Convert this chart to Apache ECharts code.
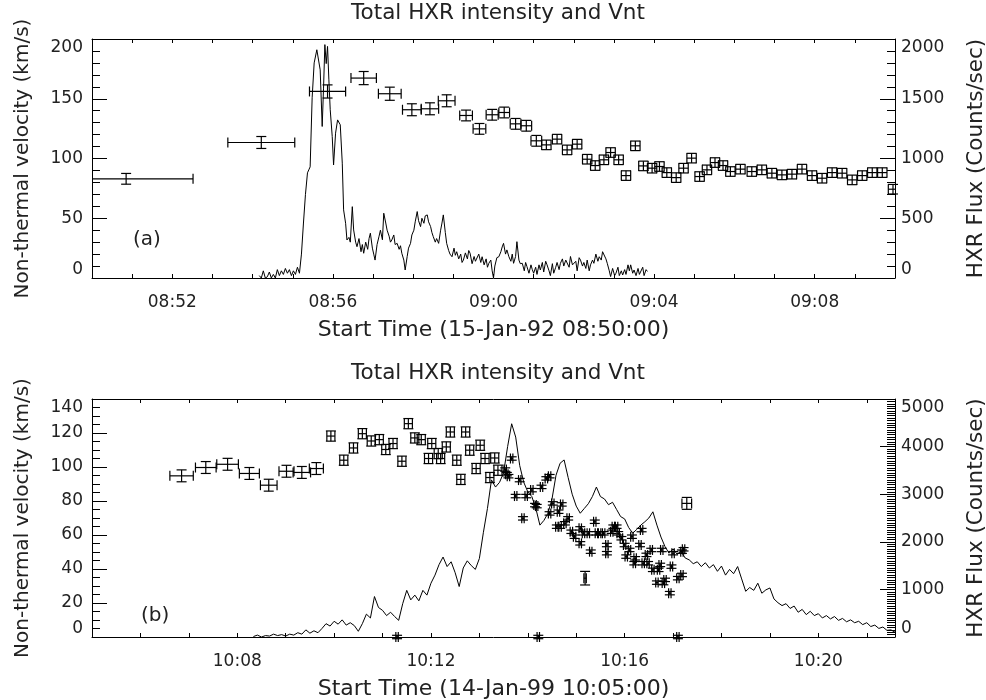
<!DOCTYPE html>
<html style="height: 100%">
<head>
<meta charset="utf-8">
</head>
<body style="height: 100%; margin: 0; background: #fff">
<div id="container" style="width: 986px; height: 700px"></div>
<script type="text/javascript" src="https://cdn.jsdelivr.net/npm/echarts@6/dist/echarts.min.js"></script>
<script type="text/javascript">

// ---- panel (a): 15-Jan-92, times in seconds after 08:50:00 ----
var startA = '08:50:00';
var labelSecA = [120, 360, 600, 840, 1080];
var labelTextA = ['08:52', '08:56', '09:00', '09:04', '09:08'];

// HXR light curve [sec, counts/sec]
var hxrA = [[250,20],[253,0],[256,60],[259,0],[262,10],[265,50],[268,0],[271,30],[274,0],[277,70],[280,20],[283,60],[286,30],[289,80],[292,40],[295,70],[298,20],[301,60],[304,30],[307,90],[310,40],[313,200],[316,460],[319,700],[322,880],[324,905],[326,930],[329,1508],[332,1800],[336,1910],[338,1924],[341,1742],[344,1268],[346,1589],[348,1953],[350,1794],[352,1938],[354,1658],[356,1408],[359,1184],[361,946],[364,1212],[367,1323],[371,1282],[374,961],[376,570],[379,458],[381,318],[384,340],[386,300],[389,597],[391,402],[394,300],[396,262],[399,330],[402,220],[404,280],[406,207],[409,300],[412,240],[414,330],[416,375],[419,250],[421,200],[423,150],[426,280],[429,350],[431,400],[434,320],[436,542],[439,460],[441,400],[444,350],[446,300],[448,318],[451,360],[453,280],[456,290],[459,240],[461,270],[463,207],[466,150],[468,67],[471,180],[473,250],[476,290],[478,360],[481,400],[483,470],[486,556],[488,480],[491,430],[493,500],[496,458],[498,520],[501,528],[503,470],[506,430],[508,380],[510,346],[513,300],[515,330],[518,290],[521,400],[523,460],[525,528],[528,380],[530,290],[533,230],[535,200],[538,178],[541,250],[543,190],[545,220],[548,160],[551,200],[553,130],[555,150],[558,210],[561,160],[563,230],[565,207],[568,120],[571,180],[573,140],[575,150],[578,200],[581,130],[583,178],[586,110],[589,160],[591,90],[593,123],[596,150],[598,60],[600,0],[602,100],[605,170],[608,178],[611,220],[613,260],[615,290],[618,200],[620,235],[623,178],[626,140],[628,200],[630,123],[633,180],[635,304],[638,150],[640,120],[643,123],[646,60],[648,130],[650,95],[653,40],[656,110],[658,70],[660,40],[663,90],[665,30],[668,110],[670,67],[673,130],[675,50],[678,140],[680,110],[683,60],[685,20],[688,120],[690,40],[693,90],[695,130],[698,70],[700,123],[703,160],[705,100],[708,150],[710,150],[713,90],[715,180],[718,110],[720,95],[723,140],[725,60],[728,170],[730,150],[733,100],[735,130],[738,80],[740,150],[743,60],[745,110],[748,150],[750,123],[753,200],[756,140],[758,178],[761,150],[763,220],[765,220],[768,160],[770,123],[773,60],[775,12],[778,80],[781,20],[783,40],[786,90],[788,20],[791,60],[793,25],[796,70],[798,30],[801,110],[803,60],[805,110],[808,40],[810,67],[813,20],[816,80],[818,30],[820,40],[823,90],[825,20],[828,70],[830,55]];

// non-thermal velocity [sec, km/s, time err (s), vel err (km/s)]
var velA = [[51,83.0,100,4.5],[253,113.4,50,5],[352,156.1,27,5.5],[406,167.3,19,5.5],[445,154.2,17,5.5],[478,140.8,14,5],[505,141.6,13,5],[530,148.3,12.5,5],[559,136.0,9.5,4.5],[579,124.8,9.5,4.5],[598,136.6,9,4.5],[616,138.5,8,4.5],[633,129.0,8,4.5],[649,127.4,8,4.5],[664,114.8,8,4.5],
[679,111.4,7,4],[695,116.2,7,4],[710,107.2,7,4],[725,112.0,7,4],[740,99.4,7,4],[752,94.1,7,4],[765,98.9,7,4],[775,105.0,7,4],[787,98.9,7,4],[798,85.7,7,4],[812,110.6,7,4],[824,93.8,7,4],[837,91.9,7,4],[848,93.3,7,4],[859,88.2,7,4],[873,84.0,7,4],[884,91.9,7,4],[896,100.3,7,4],[908,84.9,7,4],[919,90.5,7,4],[931,96.6,7,4],[943,94.1,7,4],[954,89.1,7,4],[969,91.1,7,4],[986,89.1,7,4],[1001,90.5,7,4],[1016,87.7,7,4],[1031,86.3,7,4],[1046,86.9,7,4],[1061,91.1,7,4],[1076,85.7,7,4],[1091,83.5,7,4],[1106,88.2,7,4],[1121,87.7,7,4],[1136,82.1,7,4],[1151,85.7,7,4],[1166,88.2,7,4],[1181,88.2,7,4],[1197,74.3,7,4]];

// ---- panel (b): 14-Jan-99, times in seconds after 10:05:00 ----
var startB = '10:05:00';
var labelSecB = [180, 420, 660, 900];
var labelTextB = ['10:08', '10:12', '10:16', '10:20'];

// HXR light curve sampled every 5 s from 200 s
var hxrBStart = 200, hxrBStep = 5;
var hxrB = [10,40,0,30,20,60,30,50,20,60,40,90,60,150,80,130,90,180,280,230,
330,270,360,250,300,240,120,280,480,400,850,620,560,450,520,430,350,700,980,780,
880,760,980,880,1130,1300,1520,1680,1480,1580,1350,1060,1450,1600,1500,1420,1650,2200,2700,3300,
3150,3250,3450,4000,4480,4200,3600,3250,3050,2950,2700,2350,2450,2600,2900,3400,3650,3720,3350,3000,
2750,2600,2700,2800,2950,3150,2950,2900,2780,2830,2680,2530,2480,2300,2180,2260,2350,2420,2500,2630,
2350,2100,1900,1760,1850,1740,1800,1660,1620,1540,1580,1480,1560,1450,1520,1380,1490,1300,1420,1330,
1480,1220,960,1040,980,1130,920,990,1030,800,720,660,700,600,650,520,580,470,540,450,
490,400,450,380,430,350,390,320,360,300,330,260,300,220,250,180,210,140,150,100];

var velB = [[111,94.8,14.5,3.5],[141,99.7,12.8,3.5],[168,101.6,13.4,3.5],[195,96.2,12.4,3.5],[219,89.3,10.3,3.5],[241,97.5,9.3,3.5],[260,96.8,10.8,3.5],[278,99.1,8.7,3.5],
[296,118.2,5,3],[312,104.0,5,3],[324,111.2,5,3],[335,119.6,5,3],[346,115.3,5,3],[356,116.1,5,3],[364,110.3,5,3],[373,113.8,5,3],[378,0,1.5,1],[384,103.4,5,3],[392,125.5,5,3],[400,117.1,5,3],[408,116.1,5,3],[417,105.0,5,3],[421,113.8,5,3],[429,107.9,5,3],[432,105.0,5,3],[439,111.8,5,3],[444,120.6,5,3],[452,104.0,5,3],[457,92.7,5,3],[463,120.6,5,3],[468,109.9,5,3],[476,99.1,5,3],[481,112.8,5,3],[487,105.0,5,3],[493,93.8,5,3],[499,105.3,5,3],[503,98.1,5,3],
[512,98.5,1.5,1],[514,95.8,1.5,1],[516,94.6,1.5,1],[520,105.0,1.5,1],[525,82.9,1.5,1],[530,92.3,1.5,1],[534,69.8,1.5,1],[538,82.9,1.5,1],[545,86.4,1.5,1],[549,77.6,1.5,1],[551,77.0,1.5,1],[553,0,1.5,1],[557,88.3,1.5,1],[563,93.3,1.5,1],[567,94.6,1.5,1],[567,72.7,1.5,1],[571,78.6,1.5,1],[576,64.9,1.5,1],[578,73.7,1.5,1],[580,64.9,1.5,1],[582,78.0,1.5,1],[586,66.9,1.5,1],[590,69.8,1.5,1],[594,61.9,1.5,1],[598,59.0,1.5,1],[605,63.9,1.5,1],[605,55.1,1.5,1],[609,61.0,1.5,1],[611,34.6,1.5,4],[615,61.0,1.5,1],[618,50.2,1.5,1],[623,67.8,1.5,1],[625,61.0,1.5,1],[629,61.0,1.5,1],[634,61.0,1.5,1],[638,54.1,1.5,1],[638,49.3,1.5,1],[644,61.9,1.5,1],[646,64.9,1.5,1],[650,64.9,1.5,1],[652,61.0,1.5,1],[656,58.1,1.5,1],[660,54.1,1.5,1],[662,47.3,1.5,1],[666,51.2,1.5,1],[669,59.0,1.5,1],[672,43.4,1.5,1],[673,46.3,1.5,1],[679,54.1,1.5,1],[681,62.9,1.5,1],[683,43.4,1.5,1],[687,48.3,1.5,1],[689,43.4,1.5,1],[693,51.2,1.5,1],[695,39.5,1.5,1],[700,32.0,1.5,1],[702,39.5,1.5,1],[704,42.4,1.5,1],[706,51.2,1.5,1],[708,31.7,1.5,1],[710,33.6,1.5,1],[716,25.8,1.5,1],[718,41.4,1.5,1],[720,49.3,1.5,1],[726,0,1.5,1],[726,34.6,1.5,1],[731,36.5,1.5,1],[731,50.2,1.5,1],[733,51.6,1.5,1],[737,78.6,6,3.5]];

var hxrBData = hxrB.map(function (c, i) { return [hxrBStart + i * hxrBStep, c]; });

var FONT = 'DejaVu Sans';
var INK = '#222';

function errorBars(params, api) {
    var t = api.value(0), v = api.value(1), dt = api.value(2), dv = api.value(3);
    var cs = params.coordSys;
    var c = api.coord([t, v]);
    var xl = api.coord([t - dt, v])[0], xr = api.coord([t + dt, v])[0];
    var yt = api.coord([t, v + dv])[1], yb = api.coord([t, v - dv])[1];
    var cap = 5;
    var clipL = xl < cs.x, clipR = xr > cs.x + cs.width;
    xl = Math.max(xl, cs.x);
    xr = Math.min(xr, cs.x + cs.width);
    var st = { stroke: '#000', lineWidth: 1.2 };
    function seg(x1, y1, x2, y2) {
        return { type: 'line', shape: { x1: x1, y1: y1, x2: x2, y2: y2 }, style: st };
    }
    var kids = [
        seg(xl, c[1], xr, c[1]),
        seg(c[0], yt, c[0], yb),
        seg(c[0] - cap, yt, c[0] + cap, yt),
        seg(c[0] - cap, yb, c[0] + cap, yb)
    ];
    if (!clipL) kids.push(seg(xl, c[1] - cap, xl, c[1] + cap));
    if (!clipR) kids.push(seg(xr, c[1] - cap, xr, c[1] + cap));
    return { type: 'group', children: kids };
}

function timeAxis(grid, pos, max, secs, texts, name) {
    return {
        type: 'value', gridIndex: grid, position: pos, min: 0, max: max, interval: 60,
        axisLine: { show: true, onZero: false, lineStyle: { color: '#000', width: 1 } },
        axisTick: { show: true, inside: true, length: 4, lineStyle: { color: '#000', width: 1 } },
        splitLine: { show: false },
        axisLabel: {
            show: pos === 'bottom', margin: 16, fontFamily: FONT, fontSize: 17, color: INK,
            showMinLabel: false, showMaxLabel: false,
            formatter: function (v) {
                var i = secs.indexOf(Math.round(v));
                return i >= 0 ? texts[i] : '';
            }
        },
        name: pos === 'bottom' ? name : '',
        nameLocation: 'middle', nameGap: 41,
        nameTextStyle: { fontFamily: FONT, fontSize: 22, color: INK }
    };
}

function valAxis(grid, pos, max, interval, minorSplit, name, gap, nameSize) {
    return {
        type: 'value', gridIndex: grid, position: pos, min: 0, max: max, interval: interval,
        axisLine: { show: true, onZero: false, lineStyle: { color: '#000', width: 1 } },
        axisTick: { show: true, inside: true, length: 15, lineStyle: { color: '#000', width: 1 } },
        minorTick: { show: true, splitNumber: minorSplit, length: 8, lineStyle: { color: '#000', width: 1 } },
        splitLine: { show: false },
        minorSplitLine: { show: false },
        axisLabel: {
            margin: pos === 'left' ? 9 : 6, fontFamily: FONT, fontSize: 17, color: INK,
            verticalAlignMinLabel: 'bottom', verticalAlignMaxLabel: 'top',
            formatter: function (v) { return String(v); }
        },
        name: name, nameLocation: 'middle', nameGap: gap, nameRotate: 90,
        nameTextStyle: { fontFamily: FONT, fontSize: nameSize, color: INK }
    };
}

var titleText = 'Total HXR intensity and Vnt';
var tStyle = { fontFamily: FONT, fontSize: 21.5, fontWeight: 'normal', color: INK };
var pStyle = { fontFamily: FONT, fontSize: 20, fontWeight: 'normal', color: INK };

var myChart = echarts.init(document.getElementById('container'));

var option = {
    backgroundColor: '#fff',
    animation: false,
    title: [
        { text: titleText, left: 493, top: -3, textAlign: 'center', textStyle: tStyle },
        { text: titleText, left: 493, top: 357, textAlign: 'center', textStyle: tStyle },
        { text: '(a)', left: 128, top: 225, textStyle: pStyle },
        { text: '(b)', left: 136, top: 601, textStyle: pStyle }
    ],
    grid: [
        { left: 92, right: 91, top: 39, height: 239, containLabel: false, outerBoundsMode: 'none' },
        { left: 92, right: 91, top: 399, height: 238, containLabel: false, outerBoundsMode: 'none' }
    ],
    xAxis: [
        timeAxis(0, 'bottom', 1200, labelSecA, labelTextA, 'Start Time (15-Jan-92 ' + startA + ')'),
        timeAxis(0, 'top', 1200, labelSecA, labelTextA, ''),
        timeAxis(1, 'bottom', 995, labelSecB, labelTextB, 'Start Time (14-Jan-99 ' + startB + ')'),
        timeAxis(1, 'top', 995, labelSecB, labelTextB, '')
    ],
    yAxis: [
        valAxis(0, 'left', 200, 50, 5, 'Non-thermal velocity (km/s)', 59, 20),
        valAxis(0, 'right', 2000, 500, 5, 'HXR Flux (Counts/sec)', 70, 21.5),
        valAxis(1, 'left', 140, 20, 4, 'Non-thermal velocity (km/s)', 59, 20),
        valAxis(1, 'right', 5000, 1000, 20, 'HXR Flux (Counts/sec)', 70, 21.5)
    ],
    series: [
        {
            type: 'line', xAxisIndex: 0, yAxisIndex: 1, data: hxrA,
            showSymbol: false, lineStyle: { color: '#000', width: 1 }
        },
        {
            type: 'custom', xAxisIndex: 0, yAxisIndex: 0, data: velA,
            renderItem: errorBars, encode: { x: 0, y: 1 }
        },
        {
            type: 'line', xAxisIndex: 2, yAxisIndex: 3, data: hxrBData,
            showSymbol: false, lineStyle: { color: '#000', width: 1 }
        },
        {
            type: 'custom', xAxisIndex: 2, yAxisIndex: 2, data: velB,
            renderItem: errorBars, encode: { x: 0, y: 1 }
        }
    ]
};

if (option && typeof option === 'object') {
    myChart.setOption(option, true);
}

</script>
</body>
</html>
